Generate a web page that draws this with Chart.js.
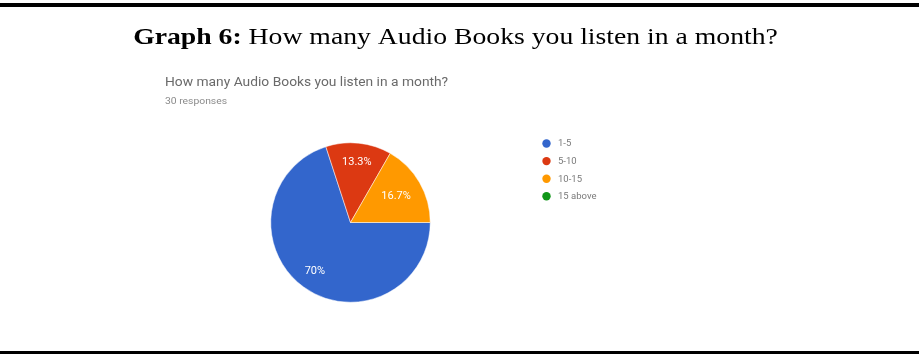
<!DOCTYPE html>
<html>
<head>
<meta charset="utf-8">
<script src="https://cdn.jsdelivr.net/npm/chart.js@4/dist/chart.umd.min.js"></script>
<style>
  html, body { margin: 0; padding: 0; background: #fff; }
  #wrap { position: relative; width: 919px; height: 360px; overflow: hidden; }
  canvas { display: block; }
</style>
</head>
<body>
<div id="wrap"><canvas id="c" width="919" height="360"></canvas></div>
<script>
const figureLabel = "Graph 6:";
const figureTitle = " How many Audio Books you listen in a month?";
const chartTitle = "How many Audio Books you listen in a month?";
const responsesText = "30 responses";
const categories = ["1-5", "5-10", "10-15", "15 above"];
const percentages = [70, 13.3, 16.7, 0];
const sliceLabels = ["70%", "13.3%", "16.7%", ""];
const colors = ["#3366cc", "#dc3912", "#ff9900", "#109618"];

const decorPlugin = {
  id: 'decor',
  beforeDraw(chart) {
    const ctx = chart.ctx;
    ctx.save();
    ctx.fillStyle = '#fff';
    ctx.fillRect(0, 0, chart.width, chart.height);
    // frame rules
    ctx.fillStyle = '#000';
    ctx.fillRect(0, 3, chart.width, 4);
    ctx.fillRect(0, 351, chart.width, 3);
    // figure heading (slightly widened like the source)
    ctx.textBaseline = 'alphabetic';
    const sx = 1.154;
    ctx.font = 'bold 24px "Liberation Serif", "DejaVu Serif", serif';
    const w1 = ctx.measureText(figureLabel).width;
    ctx.font = '24px "Liberation Serif", "DejaVu Serif", serif';
    const w2 = ctx.measureText(figureTitle).width;
    const total = (w1 + w2) * sx;
    const x0 = 455.5 - total / 2;
    ctx.save();
    ctx.translate(x0, 44);
    ctx.scale(sx, 1);
    ctx.fillStyle = '#000';
    ctx.font = 'bold 24px "Liberation Serif", "DejaVu Serif", serif';
    ctx.fillText(figureLabel, 0, 0);
    ctx.font = '24px "Liberation Serif", "DejaVu Serif", serif';
    ctx.fillText(figureTitle, w1, 0);
    ctx.restore();
    // google forms style titles
    ctx.save();
    ctx.translate(165, 86);
    ctx.scale(1.15, 1);
    ctx.fillStyle = '#6a6a6a';
    ctx.font = '12px Roboto, Arial, sans-serif';
    ctx.fillText(chartTitle, 0, 0);
    ctx.restore();
    ctx.save();
    ctx.translate(165, 104);
    ctx.scale(1.15, 1);
    ctx.fillStyle = '#8a8a8a';
    ctx.font = '9px Roboto, Arial, sans-serif';
    ctx.fillText(responsesText, 0, 0);
    ctx.restore();
    ctx.restore();
  },
  afterDatasetsDraw(chart) {
    const ctx = chart.ctx;
    const meta = chart.getDatasetMeta(0);
    ctx.save();
    ctx.fillStyle = '#fff';
    ctx.font = '11px Roboto, Arial, sans-serif';
    ctx.textAlign = 'center';
    ctx.textBaseline = 'middle';
    meta.data.forEach((arc, i) => {
      const p = arc.getProps(['x', 'y', 'startAngle', 'endAngle', 'outerRadius'], true);
      if (!sliceLabels[i]) return;
      const mid = (p.startAngle + p.endAngle) / 2;
      const r = p.outerRadius * (i === 2 ? 0.66 : 0.76);
      ctx.fillText(sliceLabels[i], p.x + Math.cos(mid) * r, p.y + Math.sin(mid) * r);
    });
    // legend
    ctx.textAlign = 'left';
    ctx.font = '9.5px Roboto, Arial, sans-serif';
    categories.forEach((c, i) => {
      const y = 143.5 + i * 17.6;
      ctx.fillStyle = colors[i];
      ctx.beginPath();
      ctx.arc(546.5, y, 4.2, 0, Math.PI * 2);
      ctx.fill();
      ctx.fillStyle = '#7a7a7a';
      ctx.fillText(c, 558, y + 0.5);
    });
    ctx.restore();
  }
};

new Chart(document.getElementById('c'), {
  type: 'pie',
  data: {
    labels: categories,
    datasets: [{
      data: percentages,
      backgroundColor: colors,
      borderColor: '#ffffff',
      borderWidth: 0.5
    }]
  },
  options: {
    responsive: false,
    animation: false,
    rotation: 90,
    layout: { padding: { left: 270.5, right: 488.5, top: 141.5, bottom: 56.5 } },
    plugins: {
      legend: { display: false },
      title: { display: false },
      tooltip: { enabled: false }
    }
  },
  plugins: [decorPlugin]
});
</script>
</body>
</html>
